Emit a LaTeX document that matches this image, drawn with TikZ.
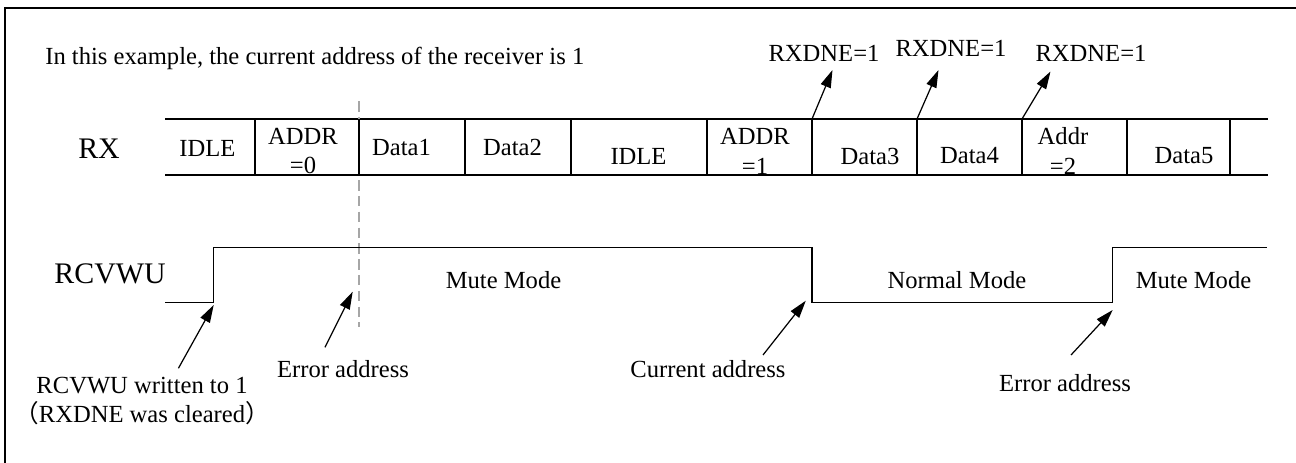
\documentclass[tikz,border=0pt]{standalone}
\usepackage{fontspec}
\setmainfont{Liberation Serif}
\newfontfamily\cjkfont{Noto Sans CJK SC}
\usetikzlibrary{arrows.meta, positioning, calc}
\tikzset{
  lbl/.style={font=\fontsize{14}{17}\selectfont, inner sep=0pt, align=center},
  big/.style={lbl, font=\fontsize{17}{20}\selectfont},
  wire/.style={line width=0.8pt},
  sep/.style={line width=0.6pt},
  guide/.style={gray!70, line width=0.6pt, dash pattern=on 6pt off 3pt},
  arr/.style={-{Triangle[length=10pt, width=6pt]}, line width=0.7pt},
}

\begin{document}
\begin{tikzpicture}[x=0.02cm, y=-0.02cm]
  \useasboundingbox (0,0) rectangle (1296,463);
  \draw[line width=0.9pt] (5,463) -- (5,8) -- (1296,8);

  \node[lbl, anchor=west] (intro) at (45,58)
    {In this example, the current address of the receiver is 1};

  % RX frame
  \node[big] (rx) at (99,149) {RX};
  \draw[wire] (165,119) -- (1268,119);
  \draw[wire] (165,175) -- (1268,175);
  \draw[guide] (359,101) -- (359,327);
  \draw[sep] (255,119) -- (255,175);
  \draw[sep] (359,119) -- (359,175);
  \draw[sep] (465,119) -- (465,175);
  \draw[sep] (571,119) -- (571,175);
  \draw[sep] (707,119) -- (707,175);
  \draw[sep] (812,119) coordinate (cutA) -- (812,175);
  \draw[sep] (917,119) coordinate (cutB) -- (917,175);
  \draw[sep] (1022,119) coordinate (cutC) -- (1022,175);
  \draw[sep] (1127,119) -- (1127,175);
  \draw[sep] (1230,119) -- (1230,175);

  \node[lbl] (idleA) at (207.5,148) {IDLE};
  \node[lbl] (addrA) at (303,151) {ADDR\\=0};
  \node[lbl] (dataA) at (401.5,147) {Data1};
  \node[lbl] (dataB) at (512.5,147) {Data2};
  \node[lbl] (idleB) at (638.5,156) {IDLE};
  \node[lbl] (addrB) at (755,151) {ADDR\\=1};
  \node[lbl] (dataC) at (870,156) {Data3};
  \node[lbl] (dataD) at (969.5,156) {Data4};
  \node[lbl] (addrC) at (1063,151) {Addr\\=2};
  \node[lbl] (dataE) at (1184,156) {Data5};

  % RXDNE flags
  \node[lbl] (rxdA) at (824,53) {RXDNE=1};
  \node[lbl] (rxdB) at (951,48) {RXDNE=1};
  \node[lbl] (rxdC) at (1091,53) {RXDNE=1};
  \coordinate (tipA) at (832.5,70);
  \coordinate (tipB) at (938.5,70);
  \coordinate (tipC) at (1050.5,71.5);
  \draw[arr] (cutA) -- (tipA);
  \draw[arr] (cutB) -- (tipB);
  \draw[arr] (cutC) -- (tipC);

  % RCVWU level
  \node[big] (rcv) at (110,274) {RCVWU};
  \draw[wire] (165,302.5) -- (213.7,302.5) coordinate (upA)
    -- (213.7,247.3) -- (811.8,247.3)
    -- (811.8,302.5) coordinate (downA) -- (1112.7,302.5) coordinate (upB)
    -- (1112.7,247.3) -- (1267.4,247.3);

  \node[lbl] (muteA) at (503.5,280) {Mute Mode};
  \node[lbl] (normal) at (957,280) {Normal Mode};
  \node[lbl] (muteB) at (1193.5,280) {Mute Mode};

  \node[lbl] (written) at (142,401)
    {RCVWU written to 1\\{\cjkfont （}RXDNE was cleared{\cjkfont ）}};
  \node[lbl] (errA) at (343,369) {Error address};
  \node[lbl] (cur) at (708,369) {Current address};
  \node[lbl] (errB) at (1065,383) {Error address};

  \coordinate (fromW) at (178.4,368.3);
  \coordinate (fromE) at (325,347.3);
  \coordinate (fromC) at (763,355);
  \coordinate (fromF) at (1071,355);
  \draw[arr] (fromW) -- ($(upA)+(0,2.5)$);
  \draw[arr] (fromE) -- (352.7,291.7);
  \draw[arr] (fromC) -- ($(downA)+(-6,-1.8)$);
  \draw[arr] (fromF) -- ($(upB)+(0,7.5)$);
\end{tikzpicture}
\end{document}
